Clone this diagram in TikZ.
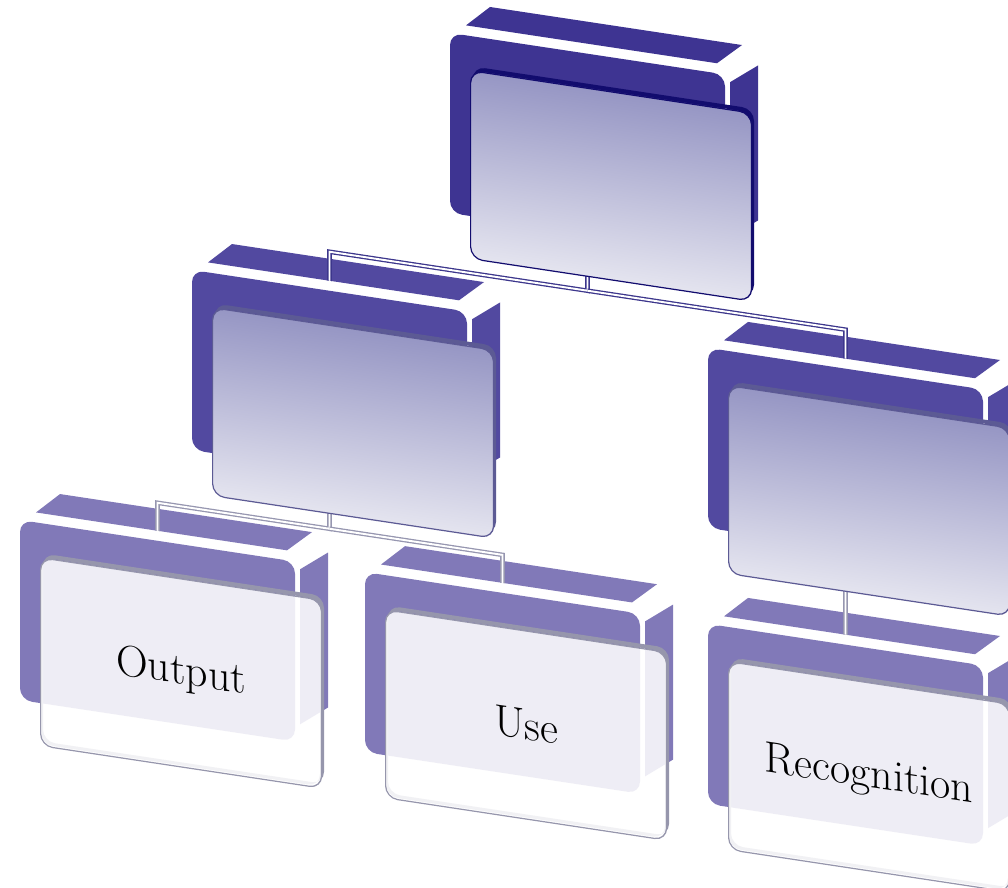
\documentclass[tikz,border=0pt]{standalone}
\definecolor{backA}{RGB}{62,52,146}
\definecolor{backB}{RGB}{82,73,160}
\definecolor{backC}{RGB}{129,121,184}
\definecolor{rimA}{RGB}{18,12,110}
\definecolor{rimB}{RGB}{92,90,148}
\definecolor{rimC}{RGB}{150,150,172}
\definecolor{gradTop}{RGB}{150,150,196}
\definecolor{gradBot}{RGB}{228,228,239}
\definecolor{conA}{RGB}{60,54,140}
\definecolor{conB}{RGB}{150,150,176}
\tikzset{
  rc/.style={rounded corners=0.24cm},
  faceA/.style={rc, draw=rimA, line width=0.7pt, top color=gradTop, bottom color=gradBot,
    minimum width=5.62cm, minimum height=3.76cm, inner sep=0pt},
  faceB/.style={faceA, draw=rimB},
  faceC/.style={rc, draw=rimC, line width=0.7pt, fill=white, fill opacity=0.87, text opacity=1,
    minimum width=5.62cm, minimum height=3.76cm, inner sep=0pt, font=\fontsize{25}{30}\selectfont},
  edgeA/.style={rc, fill=rimA, even odd rule},
  edgeB/.style={rc, fill=rimB, even odd rule},
  edgeC/.style={rc, fill=rimC, even odd rule},
  linkA/.style={draw=conA, line width=0.75pt, double=white, double distance=1.1pt},
  linkB/.style={draw=conB, line width=0.75pt, double=white, double distance=1.1pt},
}
\newcommand\backpart[4]{%
  \begin{scope}[shift={(#1,#2)}]
    \fill[#3] (-4,-44) -- (247,-44) -- (272,-66) -- (20,-66) -- cycle;
    \fill[#3] (260,-27) -- (288,-48) -- (288,107) -- (260,128) -- cycle;
    \fill[#3,rc] (-20,-34) rectangle (255,146);
    \coordinate (#4-top) at (117.5,-44);
    \coordinate (#4-bot) at (117.5,186);
  \end{scope}}
\newcommand\frontpart[5]{%
  \begin{scope}[shift={(#1,#2)}]
    \path[edge#3] (3,-4) rectangle (284,184) (1,0) rectangle (280,187);
    \node[face#3, anchor=north west] (#4) at (0,0) {#5};
  \end{scope}}
\begin{document}
\begin{tikzpicture}[x=0.02cm,y=-0.02cm]
\useasboundingbox (0,0) rectangle (1008,888);
\clip (0,0) rectangle (1008,888);
\begin{scope}[transform canvas={yslant=-0.151}]
  \backpart{470}{-1}{backA}{T}
  \backpart{212}{275}{backB}{ML}
  \backpart{728}{275}{backB}{MR}
  \backpart{40}{551}{backC}{O}
  \backpart{385}{551}{backC}{U}
  \backpart{728}{551}{backC}{R}
  \draw[linkA] (T-bot) -- ++(0,17) -| (ML-top);
  \draw[linkA] (T-bot) ++(0,17) -| (MR-top);
  \draw[linkB] (ML-bot) -- ++(0,18) -| (O-top);
  \draw[linkB] (ML-bot) ++(0,18) -| (U-top);
  \draw[linkB] (MR-bot) -- (R-top);
  \frontpart{470}{-1}{A}{T}{}
  \frontpart{212}{275}{B}{ML}{}
  \frontpart{728}{275}{B}{MR}{}
  \frontpart{40}{551}{C}{O}{Output}
  \frontpart{385}{551}{C}{U}{Use}
  \frontpart{728}{551}{C}{R}{Recognition}
\end{scope}
\end{tikzpicture}
\end{document}
